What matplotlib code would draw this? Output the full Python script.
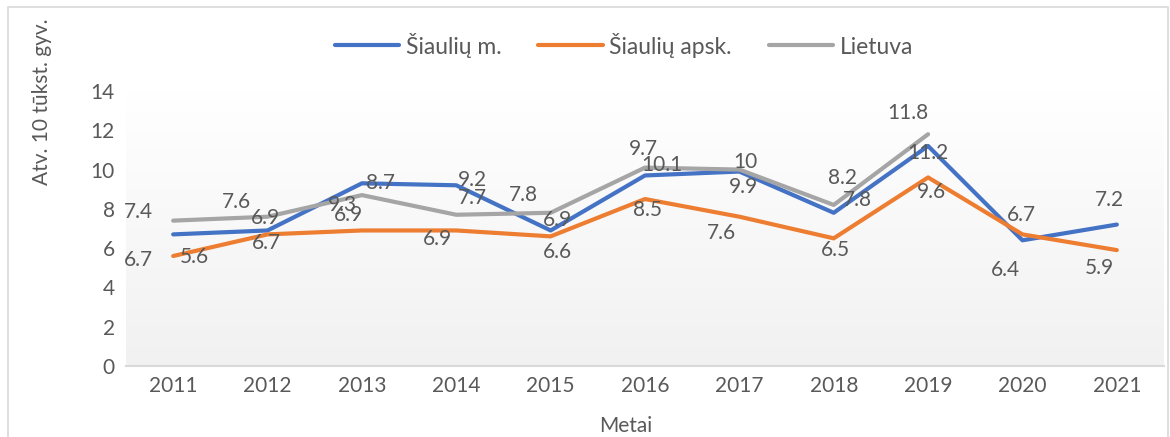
import numpy as np
import matplotlib as mpl
mpl.use('Agg')
import matplotlib.pyplot as plt
from matplotlib.patches import Rectangle

plt.rcParams['font.family'] = ['Lato', 'DejaVu Sans']

years = ['2011', '2012', '2013', '2014', '2015', '2016', '2017', '2018', '2019', '2020', '2021']
siauliu_m = [6.7, 6.9, 9.3, 9.2, 6.9, 9.7, 9.9, 7.8, 11.2, 6.4, 7.2]
siauliu_apsk = [5.6, 6.7, 6.9, 6.9, 6.6, 8.5, 7.6, 6.5, 9.6, 6.7, 5.9]
lietuva = [7.4, 7.6, 8.7, 7.7, 7.8, 10.1, 10, 8.2, 11.8, None, None]

# label offsets in pixels (dx, dy down) to mimic the Excel label placement
off_m = [(-35, 26), (-2, -12), (-19, 22), (16, -5), (7, -10), (-2, -26),
         (4, 15), (24, -13), (0, 7), (-17, 30), (-7, -25)]
off_apsk = [(21, 1), (-1, 9), (-13, -15), (-19, 9), (7, 16), (3, 11),
            (-18, 16), (2, 12), (3, 15), (-1, -19), (-17, 18)]
off_lt = [(-35, -9), (-31, -15), (19, -12), (16, -17), (-27, -18), (17, -3),
          (6, -8), (9, -27), (-20, -21)]

text_col = '#595959'
fig = plt.figure(figsize=(11.7, 4.37), dpi=100)
ax = fig.add_axes([126 / 1170, 1 - 366 / 437, (1164 - 126) / 1170, (366 - 91) / 437])

x = np.arange(len(years))
ax.set_xlim(-0.5, len(years) - 0.5)
ax.set_ylim(0, 14)

# gradient plot area, white on top, light grey at the bottom
grad = np.linspace(0, 1, 256).reshape(-1, 1)
cmap = mpl.colors.LinearSegmentedColormap.from_list('bg', ['#ffffff', '#f1f1f1'])
ax.imshow(grad, extent=[-0.5, len(years) - 0.5, 0, 14], aspect='auto', cmap=cmap, zorder=0)

series = [
    ('Šiaulių m.', siauliu_m, '#4472C4', off_m),
    ('Šiaulių apsk.', siauliu_apsk, '#ED7D31', off_apsk),
    ('Lietuva', lietuva, '#A5A5A5', off_lt),
]
for name, vals, col, offs in series:
    v = np.array([np.nan if a is None else a for a in vals], dtype=float)
    ax.plot(x, v, color=col, lw=3, label=name, zorder=3, solid_capstyle='round')
    for i, val in enumerate(vals):
        if val is None:
            continue
        dx, dy = offs[i]
        ax.annotate(f'{val:g}', (x[i], val), xytext=(dx, -dy), textcoords='offset pixels',
                    ha='center', va='center', fontsize=15, color=text_col, zorder=4)

ax.set_xticks(x)
ax.set_xticklabels(years)
ax.set_yticks(range(0, 15, 2))
ax.tick_params(axis='both', length=0, labelsize=15, labelcolor=text_col)
ax.tick_params(axis='x', pad=7)
ax.tick_params(axis='y', pad=8)
for s in ['top', 'right', 'left']:
    ax.spines[s].set_visible(False)
ax.spines['bottom'].set_color('#D9D9D9')
ax.spines['bottom'].set_linewidth(1.5)
ax.spines['bottom'].set_zorder(5)

fig.text(626 / 1170, 1 - 426 / 437, 'Metai', ha='center', va='center', fontsize=15, color=text_col)
fig.text(42 / 1170, 1 - 102 / 437, 'Atv. 10 tūkst. gyv.', ha='center', va='center',
         rotation=90, fontsize=15, color=text_col)

fig.legend(loc='center', bbox_to_anchor=(624 / 1170, 1 - 45 / 437), ncol=3, frameon=False,
           fontsize=16.5, handlelength=2.8, handletextpad=0.3, columnspacing=1.6,
           labelcolor=text_col)

fig.patches.append(Rectangle((8 / 1170, -0.1), 1160 / 1170, 1.1 - 7 / 437, transform=fig.transFigure,
                             fill=False, edgecolor='#D9D9D9', lw=1.2))

plt.savefig('out.png', dpi=100)
